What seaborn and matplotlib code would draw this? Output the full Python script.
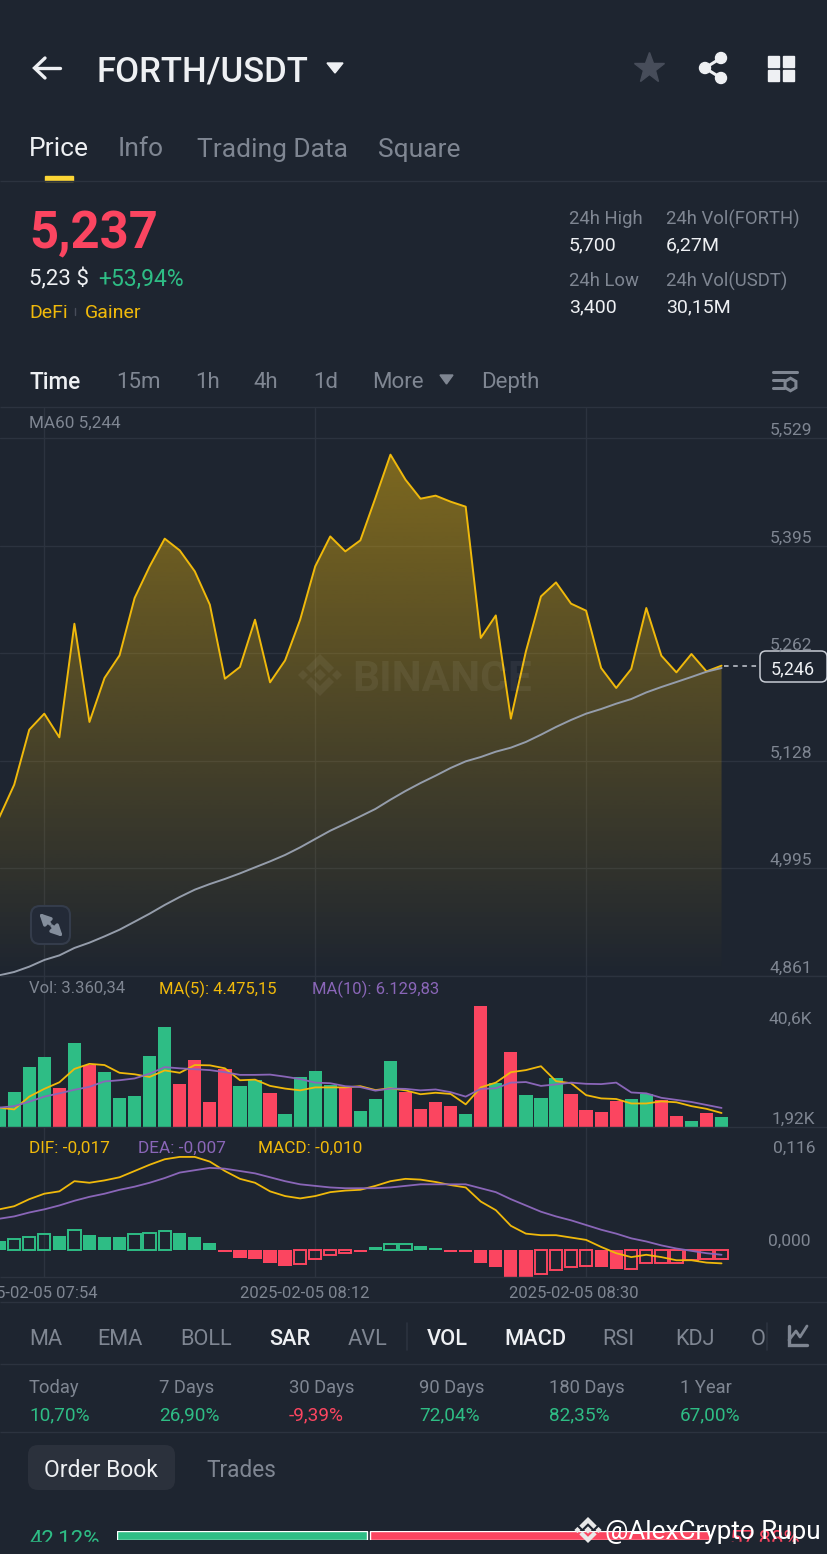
import numpy as np
import pandas as pd
import matplotlib
matplotlib.use("Agg")
import matplotlib.pyplot as plt
from matplotlib.patches import FancyBboxPatch, Polygon, Rectangle, Circle
import seaborn as sns

# values, one sample per minute, minute 0 = 07:54
minutes = list(range(-3, 46))
price = [5057.6, 5098.5, 5166.8, 5186.7, 5157.3, 5298.4, 5176.4, 5231.0, 5259.1, 5330.3,
         5369.6, 5404.0, 5389.4, 5363.4, 5322.0, 5230.1, 5244.7, 5303.4, 5225.6, 5252.9,
         5303.4, 5369.6, 5406.8, 5388.2, 5401.9, 5454.5, 5508.3, 5477.2, 5453.6, 5457.4,
         5449.9, 5443.7, 5280.7, 5308.7, 5180.5, 5264.0, 5332.3, 5349.7, 5323.3, 5314.6,
         5243.4, 5218.6, 5242.2, 5317.9, 5258.7, 5238.0, 5260.8, 5239.2, 5246.3]
ma60 = [4861.8, 4866.0, 4872.6, 4880.9, 4886.6, 4895.8, 4902.4, 4910.2, 4918.5, 4928.4,
        4938.4, 4949.2, 4959.1, 4968.2, 4975.2, 4981.5, 4988.4, 4995.9, 5003.3, 5011.3,
        5020.7, 5031.1, 5041.4, 5050.1, 5059.2, 5068.4, 5079.9, 5090.7, 5100.6, 5109.7,
        5119.3, 5127.5, 5132.9, 5139.5, 5144.5, 5151.6, 5160.6, 5170.2, 5178.9, 5186.7,
        5192.5, 5199.1, 5204.9, 5213.1, 5219.8, 5226.0, 5232.3, 5238.8, 5243.4]
volume = [6.2, 11.8, 20.0, 23.3, 13.1, 28.1, 20.7, 18.4, 9.5, 10.2,
          23.7, 33.4, 14.2, 22.4, 8.4, 19.3, 13.6, 15.6, 11.2, 4.3,
          16.6, 18.8, 14.0, 13.1, 5.4, 9.3, 22.0, 11.8, 5.8, 8.3,
          6.8, 4.1, 40.5, 14.6, 25.1, 10.8, 9.7, 16.2, 11.0, 5.5,
          4.9, 8.6, 9.2, 11.0, 8.8, 3.5, 2.0, 4.7, 3.4]
volume_side = list("ggggrgrgggggrrrrggrggggrgggrrrrgrgrgggrrrrggrrgrg")
vol_ma5 = [6.4, 5.8, 10.1, 12.7, 14.9, 19.4, 21.1, 20.7, 18.1, 17.6,
           16.7, 18.9, 18.1, 20.7, 20.6, 19.6, 15.6, 15.8, 13.7, 12.8,
           12.2, 13.2, 13.2, 13.2, 13.6, 12.3, 12.9, 12.2, 10.9, 11.4,
           11.0, 7.5, 13.2, 14.8, 18.3, 19.0, 20.3, 15.3, 14.6, 10.6,
           9.5, 9.3, 7.8, 7.8, 8.5, 8.2, 6.9, 6.0, 4.6]
vol_ma10 = [6.4, 6.9, 8.4, 10.1, 11.2, 12.4, 13.4, 15.2, 15.6, 16.2,
            17.8, 20.0, 19.6, 19.3, 19.0, 18.3, 17.4, 17.4, 17.5, 16.8,
            16.0, 14.8, 14.6, 13.6, 13.3, 12.1, 12.8, 12.7, 12.2, 12.5,
            11.6, 10.1, 12.7, 12.9, 14.8, 15.0, 13.7, 14.2, 14.8, 14.4,
            14.3, 14.8, 11.5, 11.2, 9.7, 9.0, 8.3, 7.3, 6.3]
dif = [0.052, 0.056, 0.065, 0.072, 0.075, 0.088, 0.086, 0.089, 0.093, 0.101,
       0.109, 0.116, 0.119, 0.119, 0.113, 0.101, 0.091, 0.086, 0.075, 0.069,
       0.066, 0.069, 0.074, 0.076, 0.077, 0.082, 0.088, 0.091, 0.090, 0.087,
       0.083, 0.080, 0.062, 0.051, 0.031, 0.021, 0.019, 0.019, 0.016, 0.013,
       0.004, -0.004, -0.009, -0.006, -0.009, -0.013, -0.013, -0.016, -0.017]
dea = [0.040, 0.043, 0.048, 0.052, 0.057, 0.063, 0.068, 0.072, 0.077, 0.081,
       0.086, 0.092, 0.099, 0.102, 0.105, 0.104, 0.101, 0.098, 0.093, 0.088,
       0.084, 0.082, 0.080, 0.079, 0.079, 0.079, 0.080, 0.082, 0.084, 0.084,
       0.084, 0.084, 0.079, 0.074, 0.065, 0.057, 0.049, 0.043, 0.038, 0.032,
       0.026, 0.021, 0.015, 0.011, 0.006, 0.002, -0.001, -0.004, -0.006]
macd = [0.012, 0.014, 0.017, 0.020, 0.018, 0.026, 0.019, 0.017, 0.017, 0.020,
        0.022, 0.025, 0.022, 0.017, 0.009, -0.003, -0.010, -0.011, -0.017, -0.020,
        -0.018, -0.012, -0.006, -0.004, -0.003, 0.004, 0.008, 0.008, 0.005, 0.003,
        -0.002, -0.003, -0.016, -0.022, -0.034, -0.035, -0.030, -0.025, -0.022, -0.020,
        -0.022, -0.024, -0.024, -0.016, -0.016, -0.016, -0.013, -0.012, -0.011]
# 1 = hollow bar (histogram shrinking)
macd_hollow = [0, 1, 1, 1, 0, 1, 0, 0, 0, 1,
               1, 1, 0, 0, 0, 0, 0, 0, 0, 0,
               1, 1, 1, 1, 0, 0, 1, 1, 0, 0,
               0, 0, 0, 0, 0, 0, 1, 1, 1, 1,
               0, 0, 1, 1, 1, 1, 1, 1, 1]
price_ticks = [5529, 5395, 5262, 5128, 4995, 4861]
price_tick_labels = ["5,529", "5,395", "5,262", "5,128", "4,995", "4,861"]
grid_minutes = [0, 18, 36]
time_labels = ["2025-02-05 07:54", "2025-02-05 08:12", "2025-02-05 08:30"]
period_names = ["Today", "7 Days", "30 Days", "90 Days", "180 Days", "1 Year"]
period_values = ["10,70%", "26,90%", "-9,39%", "72,04%", "82,35%", "67,00%"]
book_shares = [42.12, 57.88]

BG = "#1e2530"
GRID = "#2c333f"
GREY = "#7f8692"
WHITE = "#eef0f3"
YELLOW = "#f0b90b"
PURPLE = "#8a66b8"
GREEN = "#2ebd85"
RED = "#fb4560"
W, H = 828, 1554

sns.set_theme(style="dark", rc={"axes.facecolor": BG, "figure.facecolor": BG, "savefig.facecolor": BG})
plt.rcParams["font.family"] = ["Roboto", "DejaVu Sans"]

fig = plt.figure(figsize=(W / 100, H / 100), dpi=100)


def panel(top, bottom):
    ax = fig.add_axes([0, 1 - bottom / H, 1, (bottom - top) / H])
    for s in ax.spines.values():
        s.set_visible(False)
    return ax


def finish(ax, ylim, yticks=()):
    ax.set_xlim((0 - 44.3) / 15.05, (W - 44.3) / 15.05)
    ax.set_ylim(*ylim)
    ax.set_xticks(grid_minutes)
    ax.set_yticks(list(yticks))
    ax.set_xticklabels([])
    ax.set_yticklabels([])
    ax.set_xlabel("")
    ax.set_ylabel("")
    ax.tick_params(length=0)
    ax.grid(True, color=GRID, linewidth=1.0)
    ax.set_axisbelow(True)


df = pd.DataFrame({"minute": minutes, "price": price, "ma60": ma60, "volume": volume,
                   "side": volume_side, "vol_ma5": vol_ma5, "vol_ma10": vol_ma10,
                   "dif": dif, "dea": dea, "macd": macd, "hollow": macd_hollow})
df["macd_side"] = np.where(df["macd"] >= 0, "g", "r")
side_colors = {"g": GREEN, "r": RED}

# price panel
ax_price = panel(408, 976)
area = ax_price.fill_between(df["minute"], df["price"], 4861, color="none")
rgba = np.zeros((256, 1, 4))
rgba[..., 0], rgba[..., 1], rgba[..., 2] = 240 / 255, 185 / 255, 11 / 255
rgba[..., 3] = np.linspace(0.47, 0, 256)[:, None]
grad = ax_price.imshow(rgba, extent=(-3, 45, 4861, 5529), aspect="auto", zorder=2)
grad.set_clip_path(area.get_paths()[0], transform=ax_price.transData)
sns.lineplot(data=df, x="minute", y="price", color=YELLOW, linewidth=1.4, ax=ax_price, zorder=4, errorbar=None)
sns.lineplot(data=df, x="minute", y="ma60", color="#959dab", linewidth=1.4, ax=ax_price, zorder=5, errorbar=None)
finish(ax_price, (4861, 4861 + 568 * 1.2416), price_ticks)

# volume panel
ax_vol = panel(976, 1126.7)
sns.barplot(data=df, x="minute", y="volume", hue="side", palette=side_colors, native_scale=True,
            dodge=False, width=0.88, saturation=1, errorbar=None, legend=False, linewidth=0, ax=ax_vol)
sns.lineplot(data=df, x="minute", y="vol_ma5", color=YELLOW, linewidth=1.3, ax=ax_vol, errorbar=None)
sns.lineplot(data=df, x="minute", y="vol_ma10", color=PURPLE, linewidth=1.3, ax=ax_vol, errorbar=None)
finish(ax_vol, (0, 50.6))

# macd panel
ax_macd = panel(1126.7, 1277)
filled = df[df["hollow"] == 0]
hollow = df[df["hollow"] == 1]
sns.barplot(data=filled, x="minute", y="macd", hue="macd_side", palette=side_colors, native_scale=True,
            dodge=False, width=0.88, saturation=1, errorbar=None, legend=False, linewidth=0, ax=ax_macd)
sns.barplot(data=hollow, x="minute", y="macd", hue="macd_side", palette=side_colors, native_scale=True,
            dodge=False, width=0.82, saturation=1, fill=False, linewidth=1.4, errorbar=None, legend=False, ax=ax_macd)
sns.lineplot(data=df, x="minute", y="dif", color=YELLOW, linewidth=1.3, ax=ax_macd, errorbar=None)
sns.lineplot(data=df, x="minute", y="dea", color=PURPLE, linewidth=1.3, ax=ax_macd, errorbar=None)
finish(ax_macd, (-0.0344, 0.1576))

# everything around the chart, in screen pixels
ui = fig.add_axes([0, 0, 1, 1], facecolor="none")
ui.set_xlim(0, W)
ui.set_ylim(H, 0)
ui.axis("off")


def txt(x, y, s, size, color=GREY, weight="normal", ha="left", **kw):
    return ui.text(x, y, s, fontsize=size, color=color, fontweight=weight, ha=ha, va="center_baseline", **kw)


def hline(y, x0=0, x1=W, color=GRID, lw=1.0):
    ui.plot([x0, x1], [y, y], color=color, lw=lw, solid_capstyle="butt")


def binance_logo(axis, cx, cy, s, color, alpha=1.0):
    chevron = [(0, -21), (14, -7), (9, -2), (0, -11), (-9, -2), (-14, -7)]
    top = [(cx + s * a, cy + s * b) for a, b in chevron]
    bottom = [(cx + s * a, cy - s * b) for a, b in chevron]
    axis.add_patch(Polygon(top, color=color, alpha=alpha, lw=0))
    axis.add_patch(Polygon(bottom, color=color, alpha=alpha, lw=0))
    for dx, r in ((-17, 5), (17, 5), (0, 6)):
        px, r = cx + s * dx, s * r
        axis.add_patch(Polygon([[px - r, cy], [px, cy - r], [px + r, cy], [px, cy + r]], color=color, alpha=alpha, lw=0))


for y in (181, 407, 976, 1127, 1277, 1302, 1364, 1432):
    hline(y)

# header
ui.plot([35, 60], [68, 68], color=WHITE, lw=2.4, solid_capstyle="round")
ui.plot([45, 34.5, 45], [58, 68, 78], color=WHITE, lw=2.4, solid_capstyle="round", solid_joinstyle="miter")
txt(97, 69, "FORTH/USDT", 25, WHITE, "medium")
ui.add_patch(Polygon([[327, 63], [343, 63], [335, 73]], color=WHITE))
ui.plot([649], [68], marker="*", ms=23, color="#474d5a", mec="#474d5a")
for cx, cy in ((721, 58), (705, 68), (721, 78)):
    ui.add_patch(Circle((cx, cy), 5.5, color=WHITE))
ui.plot([721, 705, 721], [58, 68, 78], color=WHITE, lw=2.2)
for gx, gy in ((768, 56), (783, 56), (768, 70), (783, 70)):
    ui.add_patch(Rectangle((gx, gy), 11, 11, color=WHITE))

for x, s, c in ((29, "Price", WHITE), (118, "Info", GREY), (197, "Trading Data", GREY), (378, "Square", GREY)):
    txt(x, 147, s, 19, c)
ui.add_patch(Rectangle((45, 176), 28, 5, color="#fcd535"))

txt(29, 229, "5,237", 36.5, RED, "bold")
txt(29, 277, "5,23 $", 16, WHITE)
txt(98, 277, "+53,94%", 16.5, GREEN)
txt(29, 311, "DeFi", 14, YELLOW)
ui.plot([75, 75], [308, 315], color="#474d5a", lw=1)
txt(85, 311, "Gainer", 14, YELLOW)
for x, y, s, c, size in ((569, 217, "24h High", GREY, 13.3), (569, 243, "5,700", WHITE, 14), (569, 279, "24h Low", GREY, 13.3),
                         (569, 305, "3,400", WHITE, 14), (666, 217, "24h Vol(FORTH)", GREY, 13.3), (666, 243, "6,27M", WHITE, 14),
                         (666, 279, "24h Vol(USDT)", GREY, 13.3), (666, 305, "30,15M", WHITE, 14)):
    txt(x, y, s, size, c)

# interval row
txt(30, 380, "Time", 16.3, WHITE, "medium")
for x, s in ((116, "15m"), (195, "1h"), (253, "4h"), (313, "1d"), (372, "More"), (481, "Depth")):
    txt(x, 380, s, 16)
ui.add_patch(Polygon([[440, 375], [453, 375], [446.5, 384]], color=GREY))
for y, x0, x1 in ((372, 773, 797), (380, 773, 784), (388, 773, 784)):
    ui.plot([x0, x1], [y, y], color=GREY, lw=2.2)
ui.plot([790], [384], marker="h", ms=9, mfc="none", mec=GREY, mew=2.2)

txt(29, 422, "MA60 5,244", 12.3)
for v, s in zip(price_ticks, price_tick_labels):
    txt(812, 438.3 + (5529 - v) / 1.2416 - 9.5, s, 12.5, ha="right")

# last price tag
ui.plot([724, 760], [666, 666], color="#c7ccd4", lw=1.1, ls=(0, (3, 3)))
ui.add_patch(FancyBboxPatch((763, 654), 61, 25, boxstyle="round,pad=3,rounding_size=6", fc=BG, ec="#c7ccd4", lw=1.1))
txt(793, 667, "5,246", 13, WHITE, ha="center")

# watermark
txt(352, 675, "BINANCE", 30.5, "#ffffff", "bold", alpha=0.06)
binance_logo(ui, 320, 675, 1.0, "#ffffff", 0.06)

# expand button
ui.add_patch(FancyBboxPatch((35, 910), 31, 30, boxstyle="round,pad=4,rounding_size=9", fc="#232a37", ec="#343c4b", lw=1.5))
for head, tail in (((39, 913), (50, 924)), ((63, 937), (52, 926))):
    ui.annotate("", xy=head, xytext=tail, arrowprops=dict(arrowstyle="-|>", color="#848e9c", lw=2.4, shrinkA=0, shrinkB=0, mutation_scale=16))

# panel legends and right hand labels
txt(29, 987, "Vol: 3.360,34", 12)
txt(159, 987, "MA(5): 4.475,15", 12, YELLOW)
txt(312, 987, "MA(10): 6.129,83", 12, PURPLE)
txt(812, 1018, "40,6K", 12.5, ha="right")
txt(815, 1118, "1,92K", 12.5, ha="right")
txt(29, 1147, "DIF: -0,017", 12.4, YELLOW)
txt(138, 1147, "DEA: -0,007", 12.4, PURPLE)
txt(258, 1147, "MACD: -0,010", 12.4, YELLOW)
txt(816, 1147, "0,116", 12.5, ha="right")
txt(811, 1240, "0,000", 12.5, ha="right")
for right, s in zip((98, 370, 639), time_labels):
    txt(right, 1292, s, 12, ha="right")

# indicator tabs
for x, s, c, w in ((29, "MA", GREY, "normal"), (97, "EMA", GREY, "normal"), (180, "BOLL", GREY, "normal"),
                   (269, "SAR", WHITE, "medium"), (348, "AVL", GREY, "normal"), (427, "VOL", WHITE, "medium"),
                   (504, "MACD", WHITE, "medium"), (602, "RSI", GREY, "normal"), (675, "KDJ", GREY, "normal"),
                   (751, "O", GREY, "normal")):
    txt(x, 1337, s, 15.7, c, w)
ui.plot([407, 407], [1323, 1350], color=GRID, lw=1.2)
ui.plot([767, 767], [1323, 1350], color=GRID, lw=1.2)
ui.plot([789, 789, 807], [1326, 1345, 1345], color=GREY, lw=2.4, solid_joinstyle="miter")
ui.plot([789, 796, 800, 807], [1340, 1331, 1337, 1326], color=GREY, lw=2)

# period performance
for x, name, val in zip((29, 159, 289, 419, 549, 680), period_names, period_values):
    txt(x, 1386, name, 13.2)
    txt(x, 1413, val, 13.7, RED if val.startswith("-") else GREEN)

# order book
ui.add_patch(FancyBboxPatch((36, 1453), 131, 29, boxstyle="round,pad=8,rounding_size=10", fc="#2b313c", ec="none"))
txt(44, 1468, "Order Book", 16.5, WHITE)
txt(206, 1468, "Trades", 16.3)

txt(29, 1537, "42,12%", 16, GREEN)
txt(729, 1537, "57,88%", 16, RED)
ax_book = fig.add_axes([117 / W, 1 - 1539.5 / H, (710 - 117) / W, 8.5 / H], facecolor="none")
ax_book.barh([0], [book_shares[0]], color=GREEN, height=1)
ax_book.barh([0], [book_shares[1] - 0.5], left=book_shares[0] + 0.5, color=RED, height=1)
ax_book.set_xlim(0, 100)
ax_book.set_ylim(-0.5, 0.5)
ax_book.axis("off")

# the app's bottom edge hides the lower part of the row
ui2 = fig.add_axes([0, 0, 1, 1], facecolor="none")
ui2.set_xlim(0, W)
ui2.set_ylim(H, 0)
ui2.axis("off")
ui2.add_patch(Rectangle((0, 1542), W, 12, color=BG))
binance_logo(ui2, 588, 1530, 0.62, "#e8e8e8")
ui2.text(605, 1530, "@AlexCrypto Rupu", fontsize=18.8, color="#ffffff", ha="left", va="center_baseline")

fig.savefig("out.png", dpi=100)
